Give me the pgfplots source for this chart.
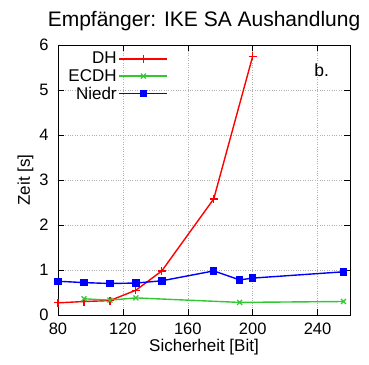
\documentclass[border=0pt]{standalone}
\usepackage{pgfplots}
\pgfplotsset{compat=1.18}
\usepackage{fontspec}
\setmainfont{Liberation Sans}
\begin{document}
\begin{tikzpicture}
\definecolor{gpred}{RGB}{255,0,0}
\definecolor{gpgreen}{RGB}{50,200,50}
\definecolor{gpblue}{RGB}{0,0,255}
\begin{axis}[
  name=ax,
  at={(0,0)}, anchor=south west,
  scale only axis,
  width=292pt, height=270pt,
  xmin=80, xmax=260, ymin=0, ymax=6,
  xtick={80,120,160,200,240},
  ytick={0,1,2,3,4,5,6},
  grid=major,
  major grid style={gray!60, dotted},
  tick align=inside,
  tick style={black, thin},
  major tick length=6pt,
  xtick pos=both, ytick pos=both,
  /pgf/number format/assume math mode=true,
  ticklabel style={font=\fontsize{16.5}{18}\selectfont},
  xticklabel style={yshift=-4pt},
  yticklabel style={xshift=-6pt},
  label style={font=\fontsize{17}{19}\selectfont},
  title style={font=\fontsize{21}{24}\selectfont, yshift=5pt},
  title={Empfänger: IKE SA Aushandlung},
  xlabel={Sicherheit [Bit]},
  ylabel={Zeit [s]},
  xlabel style={yshift=2pt},
  ylabel style={yshift=-1pt},
  legend cell align=right,
  legend plot pos=right,
  legend style={at={(rel axis cs:0.025,0.985)}, anchor=north west, draw=none, fill=none, font=\fontsize{17}{18}\selectfont, row sep=0pt, inner sep=1pt},
  legend image code/.code={\draw[#1] (8pt,0pt) -- (56pt,0pt); \draw[#1, only marks] plot coordinates {(32pt,0pt)};},
]
\addplot[gpred, line width=1.4pt, mark=+, mark size=4pt, mark options={line width=1.2pt}] coordinates {
(80,0.27) (96,0.30) (112,0.32) (128,0.55) (144,0.98) (176,2.58) (200,5.75)};
\addlegendentry{DH}
\addplot[gpgreen, line width=1.4pt, mark=x, mark size=3.5pt, mark options={line width=1.2pt}] coordinates {
(96,0.36) (112,0.33) (128,0.38) (192,0.28) (256,0.30)};
\addlegendentry{ECDH}
\addplot[gpblue, line width=1.4pt, mark=square*, mark size=3pt] coordinates {
(80,0.75) (96,0.72) (112,0.70) (128,0.71) (144,0.76) (176,0.98) (192,0.78) (200,0.82) (256,0.96)};
\addlegendentry{Niedr}
\node[font=\fontsize{17.5}{20}\selectfont] at (axis cs:242.5,5.44) {b.};
\end{axis}
\pgfresetboundingbox
\useasboundingbox (-58pt,-49pt) rectangle (311pt,315pt);
\end{tikzpicture}
\end{document}
